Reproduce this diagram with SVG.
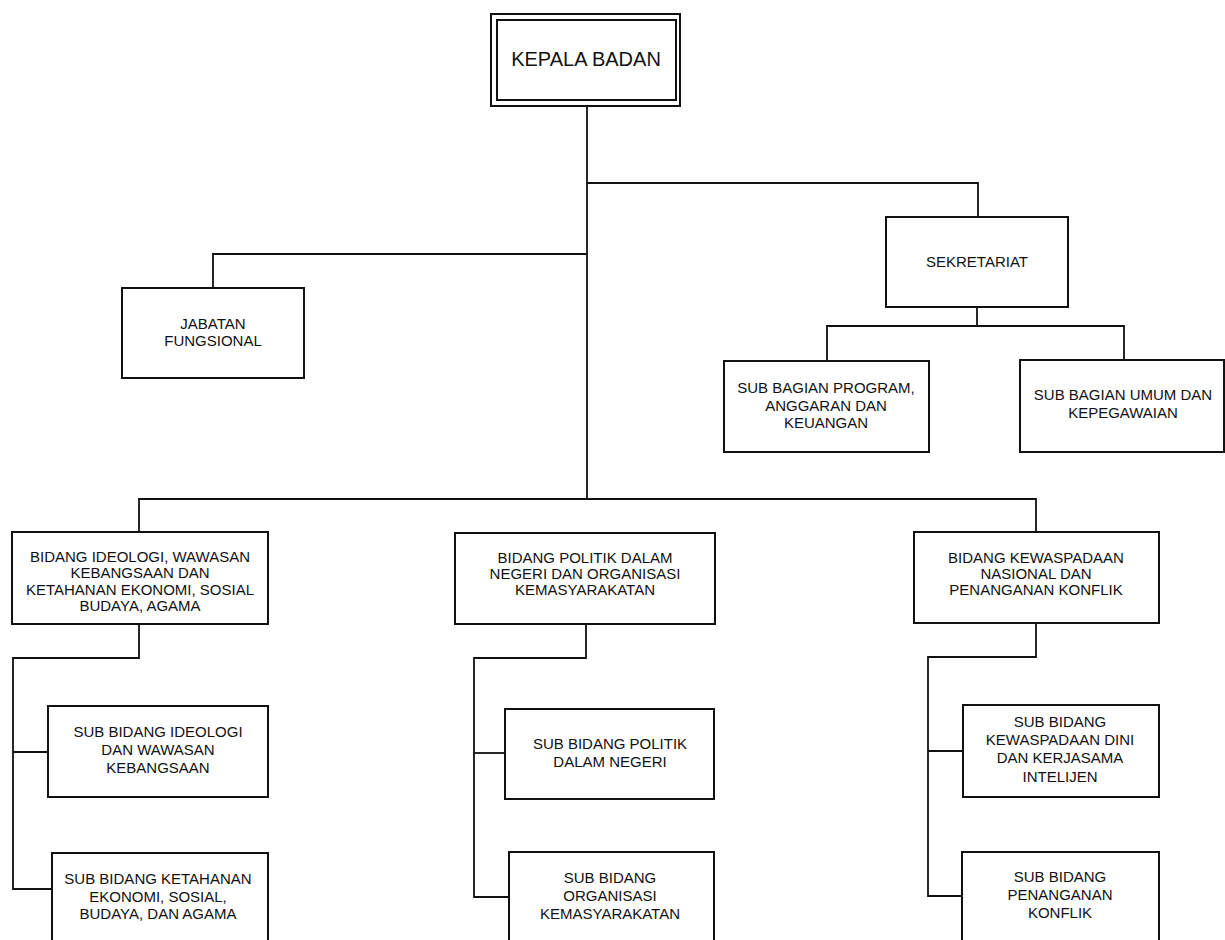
<svg xmlns="http://www.w3.org/2000/svg" width="1225" height="940" viewBox="0 0 1225 940">
<style>
.box{fill:#fff;stroke:#111;stroke-width:2}
.ln{fill:none;stroke:#111;stroke-width:1.8}
text{font-family:"Liberation Sans",Arial,sans-serif;font-size:15px;fill:#111;text-anchor:middle}
</style>
<rect width="1225" height="940" fill="#fff"/>
<g id="connectors">
<path class="ln" d="M587,106 V499"/>
<path class="ln" d="M587,183 H978 V217"/>
<path class="ln" d="M587,254 H213 V288"/>
<path class="ln" d="M977,307 V326"/>
<path class="ln" d="M827,361 V326 H1124 V360"/>
<path class="ln" d="M139,532 V499 H1036 V532"/>
<path class="ln" d="M139,624 V658 H13 V889 H52"/>
<path class="ln" d="M13,752 H48"/>
<path class="ln" d="M586,624 V658 H474 V897 H509"/>
<path class="ln" d="M474,753 H505"/>
<path class="ln" d="M1036,623 V657 H928 V896 H962"/>
<path class="ln" d="M928,751 H963"/>
</g>
<g id="kepala">
<rect class="box" x="491" y="14" width="189" height="92"/>
<rect class="box" x="497" y="20" width="179" height="80"/>
<text x="586" y="66" style="font-size:20px">KEPALA BADAN</text>
</g>
<g id="sekretariat">
<rect class="box" x="886" y="217" width="182" height="90"/>
<text x="977" y="267">SEKRETARIAT</text>
</g>
<g id="jabatan">
<rect class="box" x="122" y="288" width="182" height="90"/>
<text x="213" y="329">JABATAN</text>
<text x="213" y="346">FUNGSIONAL</text>
</g>
<g id="subbag-program">
<rect class="box" x="724" y="361" width="205" height="91"/>
<text x="826" y="393">SUB BAGIAN PROGRAM,</text>
<text x="826" y="411">ANGGARAN DAN</text>
<text x="826" y="428">KEUANGAN</text>
</g>
<g id="subbag-umum">
<rect class="box" x="1020" y="360" width="204" height="92"/>
<text x="1123" y="400">SUB BAGIAN UMUM DAN</text>
<text x="1123" y="418">KEPEGAWAIAN</text>
</g>
<g id="bidang-ideologi">
<rect class="box" x="12" y="532" width="256" height="92"/>
<text x="140" y="562">BIDANG IDEOLOGI, WAWASAN</text>
<text x="140" y="578">KEBANGSAAN DAN</text>
<text x="140" y="595">KETAHANAN EKONOMI, SOSIAL</text>
<text x="140" y="611">BUDAYA, AGAMA</text>
</g>
<g id="bidang-politik">
<rect class="box" x="455" y="533" width="260" height="91"/>
<text x="585" y="563">BIDANG POLITIK DALAM</text>
<text x="585" y="579">NEGERI DAN ORGANISASI</text>
<text x="585" y="595">KEMASYARAKATAN</text>
</g>
<g id="bidang-kewaspadaan">
<rect class="box" x="914" y="532" width="245" height="91"/>
<text x="1036" y="563">BIDANG KEWASPADAAN</text>
<text x="1036" y="579">NASIONAL DAN</text>
<text x="1036" y="595">PENANGANAN KONFLIK</text>
</g>
<g id="sub-ideologi">
<rect class="box" x="48" y="706" width="220" height="91"/>
<text x="158" y="737">SUB BIDANG IDEOLOGI</text>
<text x="158" y="755">DAN WAWASAN</text>
<text x="158" y="773">KEBANGSAAN</text>
</g>
<g id="sub-ketahanan">
<rect class="box" x="52" y="853" width="216" height="100"/>
<text x="158" y="884">SUB BIDANG KETAHANAN</text>
<text x="158" y="902">EKONOMI, SOSIAL,</text>
<text x="158" y="919">BUDAYA, DAN AGAMA</text>
</g>
<g id="sub-politik">
<rect class="box" x="505" y="709" width="209" height="90"/>
<text x="610" y="749">SUB BIDANG POLITIK</text>
<text x="610" y="767">DALAM NEGERI</text>
</g>
<g id="sub-ormas">
<rect class="box" x="509" y="852" width="205" height="100"/>
<text x="610" y="883">SUB BIDANG</text>
<text x="610" y="901">ORGANISASI</text>
<text x="610" y="919">KEMASYARAKATAN</text>
</g>
<g id="sub-kewaspadaan">
<rect class="box" x="963" y="705" width="196" height="92"/>
<text x="1060" y="727">SUB BIDANG</text>
<text x="1060" y="745">KEWASPADAAN DINI</text>
<text x="1060" y="763">DAN KERJASAMA</text>
<text x="1060" y="782">INTELIJEN</text>
</g>
<g id="sub-konflik">
<rect class="box" x="962" y="852" width="197" height="100"/>
<text x="1060" y="882">SUB BIDANG</text>
<text x="1060" y="900">PENANGANAN</text>
<text x="1060" y="918">KONFLIK</text>
</g>
</svg>
